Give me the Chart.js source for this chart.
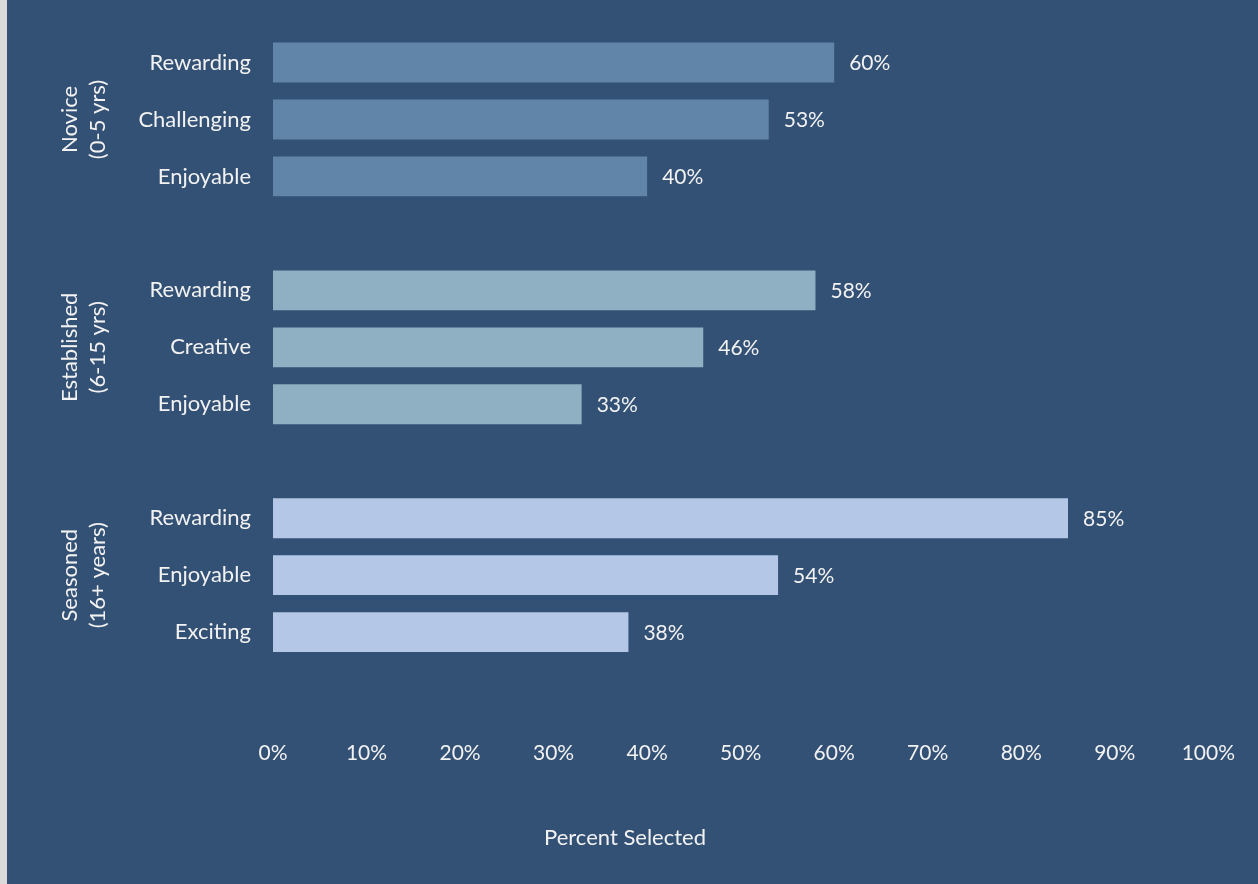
<!DOCTYPE html>
<html>
<head>
  <title>Percent Selected by Experience</title>
  <style>
    html, body { margin: 0; padding: 0; background: #d9d9d9; }
    #wrap { position: absolute; left: 7px; top: 0; width: 1251px; height: 884px; background: #335075; }
  </style>
</head>
<body>
  <div id="wrap"><canvas id="chart"></canvas></div>

  <script src="https://cdn.jsdelivr.net/npm/chart.js@4"></script>
  <script>
    // survey answers, one block per experience group (top to bottom)
    const groupNames = [['Novice', '(0-5 yrs)'], ['Established', '(6-15 yrs)'], ['Seasoned', '(16+ years)']];
    const noviceLabels = ['Rewarding', 'Challenging', 'Enjoyable'];
    const noviceValues = [60, 53, 40];
    const establishedLabels = ['Rewarding', 'Creative', 'Enjoyable'];
    const establishedValues = [58, 46, 33];
    const seasonedLabels = ['Rewarding', 'Enjoyable', 'Exciting'];
    const seasonedValues = [85, 54, 38];
    const groupColors = ['#6085a8', '#8fafc2', '#b4c7e7'];
    const xTicks = [0, 10, 20, 30, 40, 50, 60, 70, 80, 90, 100];

    // flatten into one category axis, with an empty row after each group
    const blocks = [
      [noviceLabels, noviceValues],
      [establishedLabels, establishedValues],
      [seasonedLabels, seasonedValues]
    ];
    let labels = [], values = [], colors = [], groupRows = [];
    blocks.forEach((b, gi) => {
      groupRows.push(labels.length + 1);
      b[0].forEach((lab, i) => {
        labels.push(lab);
        values.push(b[1][i]);
        colors.push(groupColors[gi]);
      });
      labels.push(''); values.push(null); colors.push('transparent');
    });

    const textColor = '#f2f2f2';
    const font = 'Lato';

    const valueLabels = {
      id: 'valueLabels',
      afterDatasetsDraw(chart) {
        const ctx = chart.ctx;
        const meta = chart.getDatasetMeta(0);
        ctx.save();
        ctx.fillStyle = textColor;
        ctx.font = '21px ' + font;
        ctx.textBaseline = 'middle';
        ctx.textAlign = 'left';
        meta.data.forEach((bar, i) => {
          if (values[i] == null) return;
          ctx.fillText(values[i] + '%', bar.x + 15, bar.y + 1);
        });
        ctx.restore();
      }
    };

    const groupLabels = {
      id: 'groupLabels',
      afterDraw(chart) {
        const ctx = chart.ctx;
        const y = chart.scales.y;
        ctx.save();
        ctx.fillStyle = textColor;
        ctx.font = '22px ' + font;
        ctx.textAlign = 'center';
        ctx.textBaseline = 'middle';
        groupNames.forEach((lines, gi) => {
          const cy = y.getPixelForValue(groupRows[gi]);
          lines.forEach((t, li) => {
            ctx.save();
            ctx.translate(63 + li * 28, cy);
            ctx.rotate(-Math.PI / 2);
            ctx.fillText(t, 0, 0);
            ctx.restore();
          });
        });
        ctx.restore();
      }
    };

    new Chart(document.getElementById('chart'), {
      type: 'bar',
      data: {
        labels: labels,
        datasets: [{
          data: values,
          backgroundColor: colors,
          barPercentage: 0.7,
          categoryPercentage: 1.0
        }]
      },
      options: {
        indexAxis: 'y',
        responsive: true,
        maintainAspectRatio: false,
        animation: false,
        layout: { padding: { top: 34, right: 15, left: 0, bottom: 0 } },
        plugins: {
          legend: { display: false },
          tooltip: { enabled: false },
          title: {
            display: true,
            position: 'bottom',
            text: 'Percent Selected',
            color: textColor,
            font: { family: font, size: 22, weight: 'normal' },
            padding: { top: 47, bottom: 33 }
          }
        },
        scales: {
          x: {
            min: 0,
            max: 100,
            afterBuildTicks(scale) { scale.ticks = xTicks.map(v => ({ value: v })); },
            afterFit(scale) { scale.height = 60; },
            grid: { display: false, drawTicks: false },
            border: { display: false },
            ticks: {
              color: textColor,
              font: { family: font, size: 21 },
              padding: 23,
              maxRotation: 0,
              callback: v => v + '%'
            }
          },
          y: {
            grid: { display: false, drawTicks: false },
            border: { display: false },
            afterFit(scale) {
              scale.width = 266;
              scale.paddingTop = 0;
              scale.paddingBottom = 0;
            },
            ticks: {
              color: textColor,
              font: { family: font, size: 22 },
              padding: 22,
              autoSkip: false
            }
          }
        }
      },
      plugins: [valueLabels, groupLabels]
    });
  </script>
</body>
</html>
